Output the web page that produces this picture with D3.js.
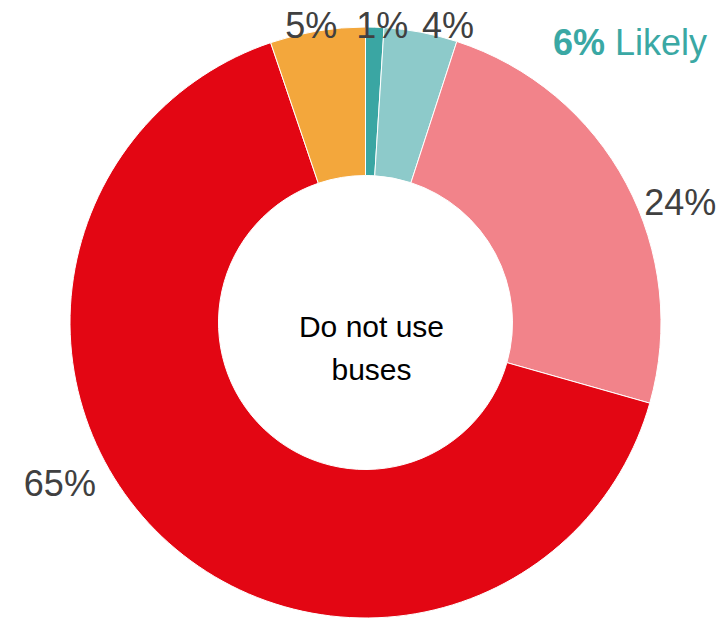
<!DOCTYPE html>
<html>
<head>
<meta charset="utf-8">
<script src="https://cdn.jsdelivr.net/npm/d3@7/dist/d3.min.js"></script>
<style>
  body { margin: 0; background: #fff; }
  text { font-family: "Liberation Sans", Arial, sans-serif; }
</style>
</head>
<body>
<svg id="donut"></svg>
<script>
// data
var categories = ["Very likely", "Fairly likely", "Fairly unlikely", "Very unlikely", "Don't know"];
var shares = [1.0, 4.0, 24.4, 65.4, 5.2];
var colors = ["#3aa6a3", "#8dcaca", "#f2838a", "#e30613", "#f3a73c"];
var centreLines = ["Do not use", "buses"];
var likelyValue = "6%";
var likelyLabel = "Likely";

var width = 726, height = 619;
var cx = 365.5, cy = 322.5;
var outerR = 295.5, innerR = 147;

// label nudges (extra angle in degrees, label radius) - excel best fit placement
var labelShift = [1.4, 4.7, 7.1, 18.8, -1.0];
var labelRad = [298, 309, 337, 345, 302];

var svg = d3.select("#donut")
    .attr("width", width)
    .attr("height", height);

var g = svg.append("g")
    .attr("transform", "translate(" + cx + "," + cy + ")");

var pie = d3.pie().sort(null);
var arcs = pie(shares);

var arc = d3.arc()
    .innerRadius(innerR)
    .outerRadius(outerR);

var color = d3.scaleOrdinal()
    .domain(categories)
    .range(colors);

g.selectAll("path.slice")
    .data(arcs)
    .enter()
    .append("path")
    .attr("class", "slice")
    .attr("d", arc)
    .attr("fill", function(d, i) { return color(categories[i]); })
    .attr("stroke", "#fff")
    .attr("stroke-width", 1);

// percentage labels
g.selectAll("text.pct")
    .data(arcs)
    .enter()
    .append("text")
    .attr("class", "pct")
    .attr("x", function(d, i) {
        var a = (d.startAngle + d.endAngle) / 2 + labelShift[i] * Math.PI / 180;
        return Math.sin(a) * labelRad[i];
    })
    .attr("y", function(d, i) {
        var a = (d.startAngle + d.endAngle) / 2 + labelShift[i] * Math.PI / 180;
        return -Math.cos(a) * labelRad[i];
    })
    .attr("dy", "0.36em")
    .attr("text-anchor", "middle")
    .style("font-size", "36px")
    .style("fill", "#404040")
    .text(function(d) { return Math.round(d.data) + "%"; });

// centre text
var centre = g.append("text")
    .attr("text-anchor", "middle")
    .style("font-size", "30px")
    .style("fill", "#000");
centre.selectAll("tspan")
    .data(centreLines)
    .enter()
    .append("tspan")
    .attr("x", 6)
    .attr("y", function(d, i) { return 14 + i * 43; })
    .text(function(d) { return d; });

// likely callout
var likely = svg.append("text")
    .attr("x", 553)
    .attr("y", 55)
    .style("font-size", "36px")
    .style("fill", "#3aa8a4");
likely.append("tspan").style("font-weight", "bold").text(likelyValue);
likely.append("tspan").text(" " + likelyLabel);
</script>
</body>
</html>
